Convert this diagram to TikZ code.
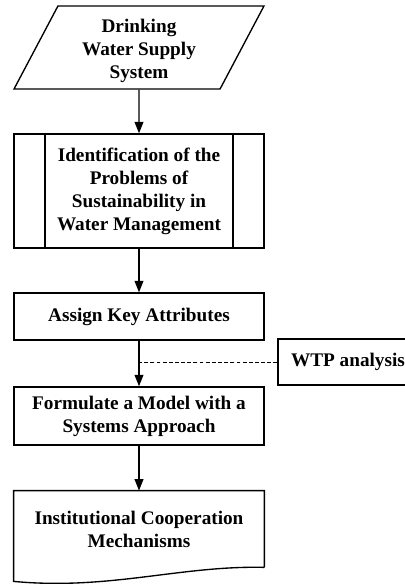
\documentclass[tikz,border=0pt]{standalone}
\usepackage{fontspec}
\setmainfont{Liberation Serif}
\usetikzlibrary{arrows.meta,shapes.geometric}

\begin{document}
\begin{tikzpicture}[
    x=0.52pt, y=-0.52pt,
    >={Triangle[length=6pt,width=4.6pt]},
    every node/.style={font=\bfseries, align=center},
    box/.style={draw, line width=0.7pt, rectangle, minimum width=\W, inner sep=2pt},
    io/.style={draw, line width=0.7pt, trapezium, trapezium left angle=59.4,
      trapezium right angle=120.6, trapezium stretches body,
      minimum width=\W, minimum height=43.2pt, inner sep=1pt, text height=34.5pt},
    proc/.style={box, path picture={
        \draw[line width=0.7pt] ([xshift=16.1pt]path picture bounding box.north west)
          -- ([xshift=16.1pt]path picture bounding box.south west);
        \draw[line width=0.7pt] ([xshift=-16.1pt]path picture bounding box.north east)
          -- ([xshift=-16.1pt]path picture bounding box.south east);}},
    link/.style={->, line width=0.7pt},
  ]

  \def\W{130pt}
  \useasboundingbox (0,0) rectangle (405,584);

  % main column
  \node[io] (supply) at (139,47.5) {Drinking\\Water Supply\\System};
  \node[proc, minimum height=59.3pt] (ident) at (139,191)
    {Identification of the\\Problems of\\Sustainability in\\Water Management};
  \node[box, minimum height=24.4pt] (assign) at (139,316.5) {Assign Key Attributes};
  \node[box, minimum height=30.2pt] (model) at (139,416)
    {Formulate a Model with a\\Systems Approach};
  \node[minimum width=\W, minimum height=39.5pt, inner sep=0pt] (coop) at (139,529)
    {Institutional Cooperation\\Mechanisms};

  % document outline with wavy bottom
  \draw[line width=0.7pt] (coop.south east) -- (coop.north east) -- (coop.north west)
    -- ([yshift=-7.3pt]coop.south west)
    .. controls +(96,9) and +(-84,-2) .. (coop.south east);

  % side input
  \node[box, minimum width=72.8pt, minimum height=24pt] (wtp) at (348,362) {WTP analysis};

  % flow
  \draw[link] (supply.south) -- (ident.north);
  \draw[link] (ident.south) -- (assign.north);
  \draw[link] (assign.south) -- (model.north);
  \draw[link] (model.south) -- (coop.north);
  \draw[line width=0.5pt, dash pattern=on 2pt off 1.2pt] (wtp.west) -- (wtp.west -| assign.south);

\end{tikzpicture}
\end{document}
